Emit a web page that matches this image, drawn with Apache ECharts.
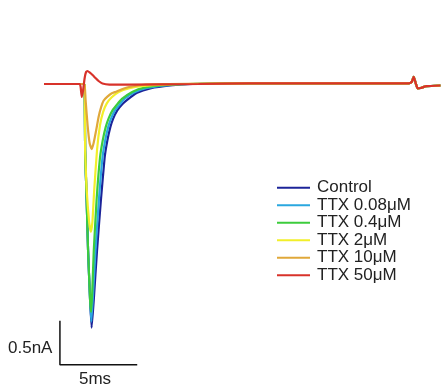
<!DOCTYPE html>
<html>
<head>
<meta charset="utf-8">
<script src="https://cdn.jsdelivr.net/npm/echarts@6/dist/echarts.min.js"></script>
<style>
html,body{margin:0;padding:0;background:#fff;}
#chart{width:446px;height:386px;}
</style>
</head>
<body>
<div id="chart"></div>
<script>
// time in ms, current in nA
const seriesNames = ['Control', 'TTX 0.08\u03bcM', 'TTX 0.4\u03bcM', 'TTX 2\u03bcM', 'TTX 10\u03bcM', 'TTX 50\u03bcM'];
const seriesColors = ['#1c2499', '#2aa7df', '#3ccc3c', '#f2ef2a', '#e0a83a', '#d8322a'];

const control = [[0,0],[2.56,0],[2.63,-0.02],[2.66,-0.75],[2.76,-1.32],[2.85,-1.89],[2.98,-2.45],[3.08,-2.77],[3.22,-2.45],[3.43,-1.89],[3.68,-1.32],[3.92,-0.84],[4.10,-0.64],[4.29,-0.49],[4.48,-0.39],[4.74,-0.30],[5.06,-0.23],[5.38,-0.18],[6.02,-0.10],[6.87,-0.05],[8.15,-0.017],[9.6,0],[13.2,0.006],[23.6,0.006],[23.78,0.023],[23.91,0.08],[24.04,0.01],[24.17,-0.05],[24.36,-0.045],[24.74,-0.025],[25.64,-0.017]];
const ttx008 = [[0,0],[2.56,0],[2.63,-0.02],[2.66,-0.75],[2.76,-1.32],[2.85,-1.89],[2.98,-2.45],[3.06,-2.70],[3.17,-2.40],[3.33,-1.89],[3.55,-1.32],[3.78,-0.84],[3.96,-0.64],[4.15,-0.49],[4.34,-0.39],[4.59,-0.30],[4.91,-0.23],[5.2,-0.17],[5.85,-0.095],[6.65,-0.045],[7.9,-0.015],[9.4,0],[13.2,0.006],[23.6,0.006],[23.78,0.023],[23.91,0.08],[24.04,0.01],[24.17,-0.05],[24.36,-0.045],[24.74,-0.025],[25.64,-0.017]];
const ttx04 = [[0,0],[2.56,0],[2.63,-0.02],[2.66,-0.75],[2.76,-1.32],[2.85,-1.89],[2.98,-2.45],[3.04,-2.59],[3.11,-2.40],[3.22,-1.89],[3.40,-1.32],[3.62,-0.84],[3.80,-0.64],[3.99,-0.49],[4.18,-0.39],[4.43,-0.30],[4.74,-0.23],[5.04,-0.17],[5.7,-0.09],[6.5,-0.04],[7.75,-0.013],[9.3,0],[13.2,0.006],[23.6,0.006],[23.78,0.023],[23.91,0.08],[24.04,0.01],[24.17,-0.05],[24.36,-0.045],[24.74,-0.025],[25.64,-0.017]];
const ttx2 = [[0,0],[2.56,0],[2.63,-0.02],[2.66,-0.75],[2.76,-1.2],[2.92,-1.57],[3.03,-1.68],[3.13,-1.57],[3.25,-1.2],[3.43,-0.75],[3.62,-0.47],[3.82,-0.32],[4.06,-0.22],[4.38,-0.15],[4.83,-0.09],[5.47,-0.05],[6.43,-0.023],[7.72,-0.006],[9.3,0],[13.2,0.006],[23.6,0.006],[23.78,0.023],[23.91,0.08],[24.04,0.01],[24.17,-0.05],[24.36,-0.045],[24.74,-0.025],[25.64,-0.017]];
const ttx10 = [[0,0],[2.56,0],[2.63,0],[2.69,-0.18],[2.82,-0.47],[2.95,-0.67],[3.08,-0.74],[3.21,-0.67],[3.38,-0.52],[3.53,-0.375],[3.70,-0.26],[3.85,-0.19],[4.10,-0.144],[4.36,-0.108],[4.66,-0.0875],[5.0,-0.0625],[5.51,-0.034],[6.58,-0.006],[8.08,0],[13.2,0.006],[23.6,0.006],[23.78,0.023],[23.91,0.08],[24.04,0.01],[24.17,-0.05],[24.36,-0.045],[24.74,-0.025],[25.64,-0.017]];
const ttx50 = [[0,0],[2.31,0],[2.37,-0.034],[2.44,-0.148],[2.53,-0.068],[2.63,0.068],[2.72,0.136],[2.82,0.148],[2.95,0.131],[3.14,0.102],[3.33,0.068],[3.53,0.034],[3.78,0.006],[4.23,-0.006],[5.51,-0.006],[10,0],[13.2,0.006],[23.6,0.006],[23.78,0.023],[23.91,0.08],[24.04,0.01],[24.17,-0.05],[24.36,-0.045],[24.74,-0.025],[25.64,-0.017]];
const traces = [control, ttx008, ttx04, ttx2, ttx10, ttx50];

// scale bar: 5 ms horizontal, 0.5 nA vertical
const scaleBar = [[1.03,-2.69],[1.03,-3.19],[6.03,-3.19]];
const scaleLabels = ['0.5nA', '5ms'];

const chart = echarts.init(document.getElementById('chart'), null, {renderer:'canvas'});
const series = traces.map((d, i) => ({
  name: seriesNames[i],
  type: 'line',
  data: d,
  showSymbol: false,
  symbol: 'none',
  smooth: 0.15,
  lineStyle: {color: seriesColors[i], width: 2.2},
  itemStyle: {color: seriesColors[i]},
  z: 2 + i,
  silent: true,
  animation: false
}));
series.push({
  name: 'scale', type: 'line', data: scaleBar, showSymbol: false, symbol: 'none',
  lineStyle: {color: '#111', width: 1.5}, silent: true, animation: false
});

chart.setOption({
  animation: false,
  backgroundColor: '#fff',
  grid: {left: 44, top: 40, width: 405.6, height: 343.2},
  xAxis: {type: 'value', min: 0, max: 26, show: false},
  yAxis: {type: 'value', min: -3.4, max: 0.5, show: false},
  legend: {
    data: seriesNames,
    orient: 'vertical',
    left: 277,
    top: 179,
    padding: 0,
    icon: 'rect',
    itemWidth: 33,
    itemHeight: 2,
    itemGap: 0,
    selectedMode: false,
    textStyle: {fontFamily: 'Liberation Sans, Arial, sans-serif', fontSize: 17, color: '#222', lineHeight: 17.5, padding: [0,0,0,2]}
  },
  graphic: [
    {type: 'text', left: 8, top: 340, style: {text: scaleLabels[0], font: '17px "Liberation Sans", Arial, sans-serif', fill: '#222'}},
    {type: 'text', left: 79, top: 371, style: {text: scaleLabels[1], font: '17px "Liberation Sans", Arial, sans-serif', fill: '#222'}}
  ],
  series: series
});
</script>
</body>
</html>
